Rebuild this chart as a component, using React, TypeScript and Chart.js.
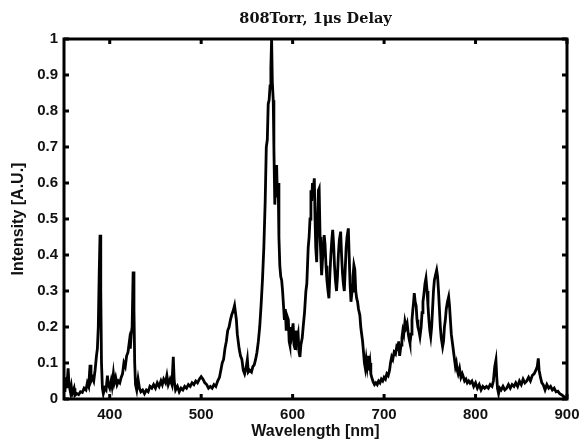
import React, { useEffect, useRef } from "react";
import { Chart, registerables } from "chart.js";

Chart.register(...registerables);

const titleText = "808Torr, 1\u03bcs Delay";
const xAxisTitle = "Wavelength [nm]";
const yAxisTitle = "Intensity [A.U.]";

const xTickValues = [400, 500, 600, 700, 800, 900];
const yTickValues = [0, 0.1, 0.2, 0.3, 0.4, 0.5, 0.6, 0.7, 0.8, 0.9, 1];
const yTickLabels = ["0", "0.1", "0.2", "0.3", "0.4", "0.5", "0.6", "0.7", "0.8", "0.9", "1"];

const wavelengths = [
  350, 351, 352, 353, 354.5, 355.5, 357, 358, 359, 361,
  362, 364, 366, 368, 370, 372, 374, 375.5, 377, 378.5,
  379.5, 381, 382.5, 384, 385.5, 386.5, 387.5, 388.5, 389.4, 390.2,
  391, 392, 393, 394.5, 396, 397.5, 398.5, 400, 401.5, 402.5,
  404, 405, 406.5, 408, 409.5, 411, 412.5, 414, 415.5, 417,
  418.5, 420, 421.5, 422.5, 423.5, 424.5, 425.6, 426.5, 427.3, 428.2,
  429.5, 431, 432.5, 434, 436, 438, 440, 442, 444, 446,
  448, 450, 452, 454, 456, 457.5, 459, 461, 462.5, 464,
  466, 468, 469.5, 470.5, 472, 474, 476, 478, 480, 482,
  484, 486, 488, 490, 492, 494, 496, 498, 500, 502,
  504, 506, 508, 510, 512, 514, 516, 518, 520, 521.5,
  523, 524.5, 526, 527.5, 529, 530.5, 532, 533.5, 535, 536.5,
  537.5, 538.5, 539.5, 540.5, 541.5, 543, 544.5, 546, 547.5, 549,
  550.5, 551.5, 553, 555, 556.5, 558, 559.5, 561, 562.5, 564,
  565.5, 567, 568.5, 570, 571.2, 572.3, 573.3, 574.3, 575.3, 576.2,
  577, 577.8, 578.8, 579.5, 580.5, 581.5, 582.5, 583.3, 584.2, 585,
  586, 587, 588, 589, 590, 591, 592, 593, 594, 595.3,
  596.2, 597, 598, 599, 600.5, 601.5, 602.6, 603.5, 604.5, 606,
  607, 608, 609, 610.5, 611.7, 613, 614.5, 615.5, 617, 618,
  619, 620, 620.8, 621.7, 622.5, 623.7, 624.5, 625.3, 626.3, 627.3,
  628.2, 629, 630, 630.8, 631.7, 632.5, 633.5, 634.5, 635.4, 636.5,
  637.5, 638.7, 639.7, 640.8, 641.8, 642.8, 643.8, 644.8, 645.8, 646.8,
  648, 649, 650, 651, 652.5, 653.5, 654.5, 655.5, 656.5, 657.5,
  658.5, 659.5, 660.9, 661.8, 662.8, 663.8, 665, 666, 667, 668,
  669, 670, 671, 672, 673.5, 674.5, 675.5, 676.5, 677.5, 678.5,
  679.5, 680.5, 681.5, 682.7, 683.5, 684.6, 685.5, 686.5, 688, 689.5,
  691, 692.5, 694, 695.5, 697, 698.5, 700, 701.5, 703, 704.5,
  706, 707, 708.3, 709.5, 711, 712.5, 713.8, 715, 716, 717,
  718.5, 719.5, 720.5, 721.5, 722.8, 724, 725.2, 726.5, 727.5, 728.3,
  729.5, 730.5, 731.5, 732.3, 733, 734, 735, 736, 737, 738,
  739.2, 740.5, 741.5, 742.5, 743.5, 744.7, 745.8, 747, 748, 749,
  750, 751, 752, 753, 754, 755, 756.3, 757.5, 758.5, 759.5,
  760.5, 761.5, 762.5, 764, 765, 766, 767, 768, 769.3, 770.6,
  771.5, 772.5, 773.5, 774.5, 775.7, 777, 778, 779, 780, 781,
  782.5, 784, 785.5, 786.6, 788, 789.5, 791, 792.5, 794, 796,
  798, 800, 802, 804, 806, 808, 810, 812, 814, 816,
  818, 819.5, 821, 822.3, 823.2, 824, 825.2, 826.5, 828, 830,
  832, 834, 836, 838, 840, 842, 844, 846, 848, 850,
  852, 854, 856, 858, 860, 862, 864, 866, 867.5, 868.6,
  869.5, 871, 872.5, 874, 876, 878, 880, 882, 884, 886,
  888, 890, 892, 894, 896, 898, 899.5,
];

const intensities = [
  0.04, 0.02, 0.06, 0.03, 0.085, 0.04, 0.02, 0.035, 0.015, 0.03,
  0.01, 0.015, 0.012, 0.02, 0.018, 0.03, 0.025, 0.045, 0.035, 0.095,
  0.05, 0.06, 0.05, 0.08, 0.12, 0.14, 0.2, 0.35, 0.456, 0.3,
  0.1, 0.03, 0.015, 0.03, 0.025, 0.065, 0.04, 0.03, 0.05, 0.035,
  0.07, 0.045, 0.06, 0.04, 0.05, 0.045, 0.06, 0.07, 0.1, 0.09,
  0.12, 0.13, 0.16, 0.14, 0.18, 0.2, 0.354, 0.25, 0.1, 0.04,
  0.025, 0.055, 0.03, 0.02, 0.025, 0.015, 0.025, 0.02, 0.035, 0.03,
  0.04, 0.03, 0.045, 0.035, 0.05, 0.04, 0.055, 0.045, 0.065, 0.04,
  0.055, 0.04, 0.117, 0.05, 0.025, 0.035, 0.02, 0.03, 0.025, 0.035,
  0.03, 0.04, 0.035, 0.045, 0.04, 0.05, 0.045, 0.055, 0.062, 0.055,
  0.045, 0.04, 0.03, 0.035, 0.03, 0.04, 0.035, 0.05, 0.06, 0.08,
  0.1, 0.11, 0.14, 0.16, 0.19, 0.2, 0.22, 0.235, 0.245, 0.26,
  0.24, 0.22, 0.18, 0.16, 0.14, 0.12, 0.11, 0.08, 0.07, 0.085,
  0.11, 0.075, 0.08, 0.075, 0.09, 0.095, 0.11, 0.13, 0.16, 0.2,
  0.26, 0.33, 0.42, 0.55, 0.7, 0.72, 0.82, 0.83, 0.87, 0.92,
  1.0, 0.88, 0.83, 0.7, 0.54, 0.62, 0.65, 0.56, 0.6, 0.45,
  0.37, 0.34, 0.33, 0.3, 0.26, 0.22, 0.25, 0.19, 0.23, 0.22,
  0.16, 0.15, 0.2, 0.18, 0.21, 0.15, 0.14, 0.19, 0.16, 0.18,
  0.13, 0.117, 0.15, 0.17, 0.205, 0.24, 0.3, 0.32, 0.42, 0.45,
  0.5, 0.58, 0.55, 0.6, 0.58, 0.613, 0.5, 0.42, 0.38, 0.5,
  0.58, 0.585, 0.45, 0.4, 0.344, 0.38, 0.42, 0.455, 0.43, 0.37,
  0.33, 0.3, 0.28, 0.35, 0.4, 0.44, 0.47, 0.43, 0.37, 0.33,
  0.3, 0.34, 0.4, 0.44, 0.465, 0.4, 0.35, 0.32, 0.3, 0.36,
  0.42, 0.45, 0.474, 0.4, 0.32, 0.27, 0.3, 0.34, 0.372, 0.36,
  0.3, 0.28, 0.27, 0.25, 0.233, 0.2, 0.18, 0.16, 0.13, 0.1,
  0.085, 0.11, 0.09, 0.12, 0.08, 0.1, 0.07, 0.06, 0.048, 0.04,
  0.045, 0.04, 0.05, 0.045, 0.055, 0.05, 0.06, 0.055, 0.07, 0.065,
  0.08, 0.1, 0.117, 0.11, 0.13, 0.125, 0.145, 0.14, 0.16, 0.12,
  0.15, 0.17, 0.19, 0.18, 0.215, 0.2, 0.21, 0.18, 0.165, 0.155,
  0.18, 0.22, 0.25, 0.27, 0.294, 0.27, 0.26, 0.22, 0.2, 0.19,
  0.173, 0.2, 0.24, 0.27, 0.29, 0.32, 0.335, 0.3, 0.26, 0.22,
  0.19, 0.173, 0.2, 0.25, 0.3, 0.33, 0.345, 0.358, 0.34, 0.3,
  0.25, 0.2, 0.17, 0.145, 0.16, 0.2, 0.22, 0.25, 0.27, 0.284,
  0.26, 0.22, 0.18, 0.16, 0.136, 0.11, 0.09, 0.1, 0.08, 0.07,
  0.085, 0.06, 0.07, 0.062, 0.05, 0.055, 0.045, 0.05, 0.044, 0.05,
  0.035, 0.045, 0.03, 0.04, 0.025, 0.035, 0.03, 0.035, 0.03, 0.04,
  0.035, 0.05, 0.09, 0.108, 0.06, 0.03, 0.015, 0.03, 0.025, 0.035,
  0.025, 0.03, 0.04, 0.03, 0.04, 0.035, 0.045, 0.035, 0.05, 0.04,
  0.055, 0.045, 0.05, 0.06, 0.05, 0.065, 0.07, 0.08, 0.09, 0.113,
  0.08, 0.06, 0.045, 0.04, 0.025, 0.04, 0.03, 0.035, 0.025, 0.03,
  0.02, 0.022, 0.015, 0.012, 0.008, 0.004, 0.002,
];

const tickFont = { family: "'Liberation Sans', Arial, sans-serif", size: 15, weight: "bold" as const };
const axisTitleFont = { family: "'Liberation Sans', Arial, sans-serif", size: 16, weight: "bold" as const };

const framePlugin = {
  id: "matlabFrame",
  afterDatasetsDraw(chart: any) {
    const { ctx, chartArea, scales } = chart;
    const { left, right, top, bottom } = chartArea;
    const len = 5;
    ctx.save();
    ctx.strokeStyle = "#000";
    ctx.lineWidth = 3;
    ctx.strokeRect(left, top, right - left, bottom - top);
    ctx.beginPath();
    xTickValues.forEach((v) => {
      const px = scales.x.getPixelForValue(v);
      ctx.moveTo(px, bottom);
      ctx.lineTo(px, bottom - len);
      ctx.moveTo(px, top);
      ctx.lineTo(px, top + len);
    });
    yTickValues.forEach((v) => {
      const py = scales.y.getPixelForValue(v);
      ctx.moveTo(left, py);
      ctx.lineTo(left + len, py);
      ctx.moveTo(right, py);
      ctx.lineTo(right - len, py);
    });
    ctx.stroke();
    ctx.restore();
  },
};

export default function App() {
  const canvasRef = useRef<HTMLCanvasElement | null>(null);

  useEffect(() => {
    if (!canvasRef.current) return;
    const points = wavelengths.map((w, i) => ({ x: w, y: intensities[i] }));
    const chart = new Chart(canvasRef.current, {
      type: "line",
      data: {
        datasets: [
          {
            data: points,
            borderColor: "#000",
            borderWidth: 2.8,
            pointRadius: 0,
            fill: false,
            tension: 0,
          },
        ],
      },
      options: {
        animation: false,
        responsive: false,
        devicePixelRatio: 1,
        layout: { padding: { left: 0, right: 15, top: 0, bottom: 0 } },
        plugins: {
          legend: { display: false },
          tooltip: { enabled: false },
          title: {
            display: true,
            text: titleText,
            fullSize: false,
            color: "#111",
            font: { family: "'DejaVu Serif', serif", size: 14.5, weight: "bold" },
            padding: { top: 11, bottom: 10.6 },
          },
        },
        scales: {
          x: {
            type: "linear",
            min: 350,
            max: 900,
            afterBuildTicks: (s: any) => {
              s.ticks = xTickValues.map((v) => ({ value: v }));
            },
            afterFit: (s: any) => {
              s.height = 42;
              s.paddingLeft = 0;
              s.paddingRight = 0;
            },
            grid: { display: false, drawTicks: false },
            border: { display: false },
            ticks: { padding: 7, font: tickFont, color: "#111", maxRotation: 0, autoSkip: false },
            title: { display: true, text: xAxisTitle, font: axisTitleFont, color: "#111", padding: { top: 0, bottom: 0 } },
          },
          y: {
            type: "linear",
            min: 0,
            max: 1,
            afterBuildTicks: (s: any) => {
              s.ticks = yTickValues.map((v) => ({ value: v }));
            },
            afterFit: (s: any) => {
              s.width = 64;
            },
            grid: { display: false, drawTicks: false },
            border: { display: false },
            ticks: {
              padding: 6,
              font: tickFont,
              color: "#111",
              autoSkip: false,
              callback: (_v: any, i: number) => yTickLabels[i],
            },
            title: { display: true, text: yAxisTitle, font: axisTitleFont, color: "#111", padding: { top: 9, bottom: 0 } },
          },
        },
      } as any,
      plugins: [framePlugin],
    });
    return () => chart.destroy();
  }, []);

  return (
    <div style={{ position: "fixed", left: 0, top: 0, width: 582, height: 441, background: "#fff" }}>
      <canvas ref={canvasRef} width={582} height={441} />
    </div>
  );
}
